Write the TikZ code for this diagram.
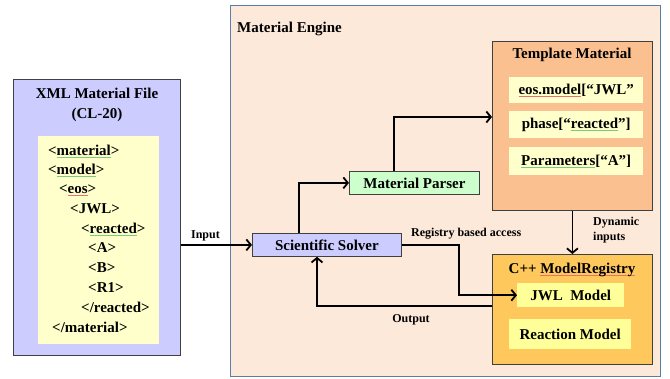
\documentclass[tikz,border=0pt]{standalone}
\usepackage{fontspec}
\setmainfont{Liberation Serif}
\usetikzlibrary{arrows.meta}
\definecolor{enginefill}{HTML}{FDE9DA}
\definecolor{engineline}{HTML}{5A7DAA}
\definecolor{lavender}{HTML}{CCCCFF}
\definecolor{paleyellow}{HTML}{FFFFCC}
\definecolor{tmplfill}{HTML}{FAC090}
\definecolor{regfill}{HTML}{FEC85C}
\definecolor{modelfill}{HTML}{FFFF99}
\definecolor{parserfill}{HTML}{CCFFCC}
\definecolor{sqgreen}{HTML}{7CCB7C}
\definecolor{sqred}{HTML}{E87070}
\newlength\sqw
\newcommand\sqline[2]{\settowidth\sqw{#2}\rlap{\textcolor{#1}{\rule[-2.2pt]{\sqw}{0.6pt}}}#2}
\begin{document}
\begin{tikzpicture}[x=1pt,y=-1pt,
  rbox/.style={draw=black!75, line width=0.8pt, inner sep=0pt, anchor=north west},
  fbox/.style={inner sep=0pt, anchor=north west},
  txt/.style={font=\bfseries\fontsize{15}{18}\selectfont, inner sep=0pt},
  lbl/.style={font=\bfseries\fontsize{12}{15}\selectfont, inner sep=0pt},
  arr/.style={line width=1.8pt, -{Straight Barb[length=4.5pt,width=11pt]}}]
\useasboundingbox (0,0) rectangle (670,378);

% Material Engine container
\node[fbox, draw=engineline, line width=1.4pt, fill=enginefill,
      minimum width=430pt, minimum height=371pt] (engine) at (230,5) {};
\node[txt, anchor=base west] (enginet) at (237,32) {Material Engine};

% XML file
\node[rbox, fill=lavender, minimum width=167pt, minimum height=276pt] (xml) at (13,79) {};
\node[txt, anchor=base] (xmlt1) at (97,98) {XML Material File};
\node[txt, anchor=base] (xmlt2) at (97,118) {(CL-20)};
\node[fbox, fill=paleyellow, minimum width=121pt, minimum height=208pt] (xmlin) at (38,136) {};
\node[txt, anchor=base west] (l1) at (48,155) {<\sqline{sqgreen}{material}>};
\node[txt, anchor=base west] (l2) at (48,174) {<\sqline{sqgreen}{model}>};
\node[txt, anchor=base west] (l3) at (59,193) {<\sqline{sqred}{eos}>};
\node[txt, anchor=base west] (l4) at (70,213) {<JWL>};
\node[txt, anchor=base west] (l5) at (81,233) {<\sqline{sqgreen}{reacted}>};
\node[txt, anchor=base west] (l6) at (88,252) {<A>};
\node[txt, anchor=base west] (l7) at (88,272) {<B>};
\node[txt, anchor=base west] (l8) at (88,292) {<R1>};
\node[txt, anchor=base west] (l9) at (81,312) {</reacted>};
\node[txt, anchor=base west] (l10) at (52,332) {</material>};

% Solver and parser
\node[rbox, fill=lavender, minimum width=149pt, minimum height=23pt] (solver) at (252,233) {};
\node[txt] (solvert) at (solver.center) {Scientific Solver};
\node[rbox, fill=parserfill, minimum width=130pt, minimum height=23pt] (parser) at (349,171) {};
\node[txt] (parsert) at (parser.center) {Material Parser};

% Template material
\node[rbox, fill=tmplfill, minimum width=160pt, minimum height=169pt] (tmpl) at (492,41) {};
\node[txt, anchor=base] (tmplt) at (572,58) {Template Material};
\node[fbox, fill=paleyellow, minimum width=134pt, minimum height=26pt] (t1) at (509,77) {};
\node[txt] (t1t) at (t1.center) {\sqline{sqred}{eos.model}[“JWL”};
\node[fbox, fill=paleyellow, minimum width=134pt, minimum height=27pt] (t2) at (509,111) {};
\node[txt] (t2t) at (t2.center) {phase[“\sqline{sqgreen}{reacted}”]};
\node[fbox, fill=paleyellow, minimum width=134pt, minimum height=28pt] (t3) at (509,147) {};
\node[txt] (t3t) at (t3.center) {\sqline{sqgreen}{Parameters}[“A”]};

% Model registry
\node[rbox, fill=regfill, minimum width=160pt, minimum height=110pt] (reg) at (492,254) {};
\node[txt, anchor=base] (regt) at (572,273) {C++ \sqline{sqred}{ModelRegistry}};
\node[fbox, fill=modelfill, minimum width=107pt, minimum height=24pt] (jwl) at (517,283) {};
\node[txt] (jwlt) at (jwl.center) {JWL\ \ Model};
\node[fbox, fill=modelfill, minimum width=122pt, minimum height=30pt] (react) at (509,319) {};
\node[txt] (reactt) at (react.center) {Reaction Model};

% Connectors
\draw[arr] (xml.east |- solver.west) -- (solver.west);
\node[lbl, anchor=base] (inputl) at (205.5,238) {Input};

\draw[arr] ([xshift=47pt]solver.north west) |- (parser.west);
\draw[arr] ([xshift=45pt]parser.north west) |- ([yshift=-76pt]tmpl.north west);
\draw[arr] (tmpl.south) -- (reg.north);
\node[lbl, anchor=west, align=left] (dyn) at (593,230) {Dynamic\\inputs};

\draw[arr] (solver.east) -- ++(57,0) |- (jwl.west);
\node[lbl, anchor=base west] (regl) at (411,236) {Registry\ based access};

\draw[arr] ([yshift=-52pt]reg.north west) -| ([xshift=65pt]solver.south west);
\node[lbl, anchor=base] (outl) at (411,322) {Output};
\end{tikzpicture}
\end{document}
